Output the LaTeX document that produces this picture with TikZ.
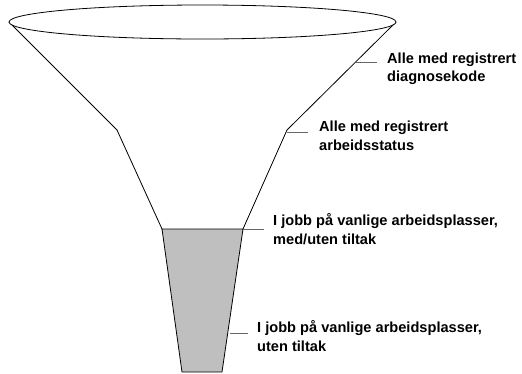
\documentclass[tikz,border=0pt]{standalone}
\usepackage{fontspec}
\setmainfont{Liberation Sans}
\usetikzlibrary{positioning}
\tikzset{funnel line/.style={draw,line width=0.8pt},
  leader/.style={draw,line width=0.8pt,gray!80!black},
  label node/.style={font=\fontsize{14.6}{18.5}\selectfont\bfseries,align=left,inner sep=0pt},}

\begin{document}
\begin{tikzpicture}[x=1pt,y=-1pt,node distance=9pt]
    \useasboundingbox (0,0) rectangle (522,373);
    % funnel corners
    \coordinate (lt) at (9,22);
    \coordinate (rt) at (396,22);
    \coordinate (lm) at (117,130);
    \coordinate (rm) at (287,130);
    \coordinate (lg) at (162,229);
    \coordinate (rg) at (243,229);
    \coordinate (lb) at (182,372);
    \coordinate (rb) at (222,372);

    % gray neck
    \path[fill=black!25,funnel line] (lg) -- (rg) -- (rb) -- (lb) -- cycle;
    % body
    \path[funnel line] (lt) -- (lm) -- (lg);
    \path[funnel line] (rt) -- (rm) -- (rg);
    \draw[line width=0.8pt,fill=white] (202.5,22) ellipse [x radius=193.5,y radius=17];

    % leaders
    \coordinate (d1) at (356,62);
    \coordinate (e1) at (377,62);
    \coordinate (d2) at (287,132);
    \coordinate (e2) at (308,132);
    \coordinate (d3) at (243,229);
    \coordinate (e3) at (264,229);
    \coordinate (d4) at (230,333);
    \coordinate (e4) at (248,333);

    \node[label node] (diag) [right = 10pt of e1, yshift=-7pt] {Alle med registrert\\diagnosekode};
    \node[label node] (arb) [right = 11pt of e2, yshift=-4pt] {Alle med registrert\\arbeidsstatus};
    \node[label node] (med) [right = of e3] {I jobb på vanlige arbeidsplasser,\\med/uten tiltak};
    \node[label node] (uten) [right = of e4, yshift=-3pt] {I jobb på vanlige arbeidsplasser,\\uten tiltak};

    \path[leader]
    (d1) -- (e1)
    (d2) -- (e2)
    (d3) -- (e3)
    (d4) -- (e4);
\end{tikzpicture}
\end{document}
